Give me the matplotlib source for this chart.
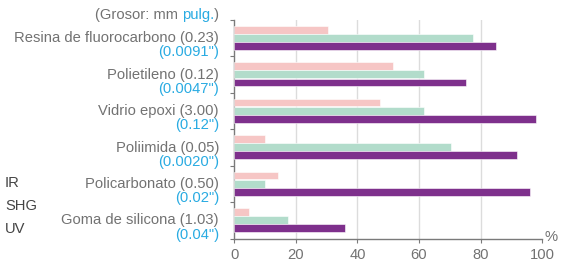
#!/usr/bin/env python3

import numpy as np

import matplotlib
matplotlib.use("Agg")

import matplotlib.pyplot as plt
from matplotlib.transforms import offset_copy


materials = [
    "Resina de fluorocarbono (0.23)",
    "Polietileno (0.12)",
    "Vidrio epoxi (3.00)",
    "Poliimida (0.05)",
    "Policarbonato (0.50)",
    "Goma de silicona (1.03)",
]
inches = ['(0.0091")', '(0.0047")', '(0.12")', '(0.0020")', '(0.02")', '(0.04")']

ir = [30.5, 51.7, 47.3, 9.9, 14.3, 4.9]
shg = [77.4, 61.7, 61.7, 70.5, 9.9, 17.4]
uv = [84.9, 75.4, 97.9, 91.7, 96.1, 36.0]

series_names = ["IR", "SHG", "UV"]
x_ticks = [0, 20, 40, 60, 80, 100]

PINK = "#f6c6c5"
TEAL = "#b2dccb"
PURPLE = "#7e308c"
GRAY = "#727272"
BLUE = "#29abe2"
AXIS = "#7a7a7a"
FS = 10.65

plt.rcParams["font.family"] = ["Liberation Sans", "DejaVu Sans"]

fig = plt.figure(figsize=(5.64, 2.66), dpi=100)
ax = fig.add_axes([0.4154, 0.1026, 0.546, 0.8222])

n = len(materials)
pos = np.arange(n)
bar_h = 0.215

for vals, color, off in [(ir, PINK, 0.265), (shg, TEAL, 0.49), (uv, PURPLE, 0.715)]:
    ax.barh(pos + off, vals, height=bar_h, color=color,
            edgecolor="white", linewidth=0.4, zorder=3)

ax.set_xlim(0, 100)
ax.set_ylim(n, 0)

ax.set_xticks(x_ticks)
ax.set_xticklabels([str(v) for v in x_ticks], color=GRAY, fontsize=FS)
ax.set_yticks(np.arange(n + 1))
ax.set_yticklabels([])
ax.tick_params(axis="x", length=3, color=AXIS, pad=4)
ax.tick_params(axis="y", length=3, color=AXIS)

for v in x_ticks[1:-1]:
    ax.axvline(v, color="#dcdcdc", linewidth=1, zorder=1)

for side in ["top", "right"]:
    ax.spines[side].set_visible(False)
for side in ["left", "bottom"]:
    ax.spines[side].set_color(AXIS)
    ax.spines[side].set_linewidth(1)

trans = ax.get_yaxis_transform()
label_x = -0.05

for i, (name, inch) in enumerate(zip(materials, inches)):
    ax.text(label_x, i + 0.5, name, transform=trans, ha="right", va="center",
            color=GRAY, fontsize=FS)
    ax.text(label_x, i + 0.89, inch, transform=trans, ha="right", va="center",
            color=BLUE, fontsize=FS)

# header "(Grosor: mm pulg.)" with the unit in blue
renderer = fig.canvas.get_renderer()
head_y = -0.14
x_off = 0
for piece, color in [(")", GRAY), ("pulg.", BLUE), ("(Grosor: mm ", GRAY)]:
    t = ax.text(label_x, head_y, piece, ha="right", va="center", color=color,
                fontsize=FS,
                transform=offset_copy(trans, fig=fig, x=-x_off, y=0, units="points"))
    w = t.get_window_extent(renderer).width
    x_off += w * 72 / fig.dpi

for k, name in enumerate(series_names):
    fig.text(5 / 564, 1 - (183 + 23 * k) / 266, name, ha="left", va="center",
             color="#444444", fontsize=FS)

ax.text(1.028, 0.01, "%", transform=ax.transAxes, ha="center", va="center",
        color=GRAY, fontsize=FS)

fig.savefig("out.png", dpi=100)
